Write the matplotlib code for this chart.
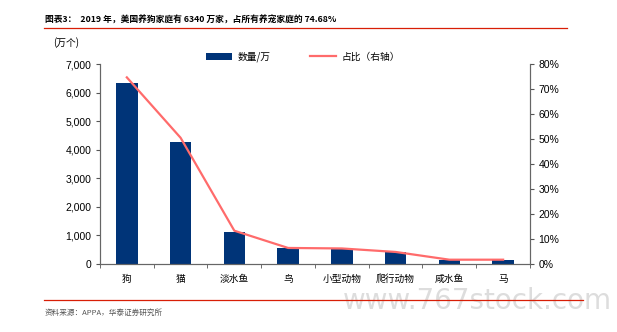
import matplotlib.pyplot as plt
from matplotlib.ticker import FuncFormatter

plt.rcParams['font.family'] = ['Liberation Sans', 'Noto Sans CJK SC', 'DejaVu Sans']

# data
pets = ['狗', '猫', '淡水鱼', '鸟', '小型动物', '爬行动物', '咸水鱼', '马']
counts = [6340, 4270, 1130, 560, 520, 430, 150, 150]          # 万个
share = [74.68, 50.5, 13.3, 6.4, 6.2, 4.8, 1.7, 1.7]          # %

bar_color = '#003478'
line_color = '#FF6B6B'
red = '#D81E06'
cjk = ['Noto Sans CJK SC', 'DejaVu Sans']

fig = plt.figure(figsize=(6.17, 3.32), dpi=100)
ax = fig.add_axes([0.162, 0.205, 0.697, 0.602])
ax2 = ax.twinx()

x = list(range(len(pets)))
b = ax.bar(x, counts, width=0.4, color=bar_color, label='数量/万', zorder=2)
ln, = ax2.plot(x, share, color=line_color, lw=1.6, label='占比（右轴）', zorder=3)
ax2.set_zorder(ax.get_zorder() + 1)
ax2.patch.set_visible(False)

ax.set_xlim(-0.5, len(pets) - 0.5)
ax.set_ylim(0, 7000)
ax2.set_ylim(0, 80)
ax.set_yticks(range(0, 7001, 1000))
ax2.set_yticks(range(0, 81, 10))
ax.yaxis.set_major_formatter(FuncFormatter(lambda v, p: f'{int(v):,}'))
ax2.yaxis.set_major_formatter(FuncFormatter(lambda v, p: f'{int(v)}%'))

ax.set_xticks(x)
ax.set_xticklabels(pets, family=cjk, fontsize=7)
ax.set_xticks([i - 0.5 for i in range(len(pets) + 1)], minor=True)
ax.tick_params(axis='x', which='major', length=0, pad=7)
ax.tick_params(axis='x', which='minor', length=3, color='#555555')
ax.tick_params(axis='y', labelsize=7.5, length=3, color='#555555', pad=3)
ax2.tick_params(axis='y', labelsize=7.5, length=3, color='#555555', pad=3)

for a in (ax, ax2):
    a.spines['top'].set_visible(False)
    for s in ('left', 'right', 'bottom'):
        a.spines[s].set_color('#666666')
        a.spines[s].set_linewidth(0.8)

ax.legend([b, ln], ['数量/万', '占比（右轴）'], loc='center', bbox_to_anchor=(0.472, 1.035),
          ncol=2, frameon=False, prop={'family': cjk, 'size': 7}, handlelength=2.7,
          columnspacing=4, handletextpad=0.6)

fig.text(0.086, 0.862, '(万个)', family=cjk, fontsize=7)

fig.text(0.073, 0.94, '图表3：  2019 年，美国养狗家庭有 6340 万家，占所有养宠家庭的 74.68%',
         family=cjk, fontsize=6.3, fontweight='bold', va='center')
fig.add_artist(plt.Line2D([0.071, 0.919], [0.916, 0.916], color=red, lw=0.9))
fig.add_artist(plt.Line2D([0.071, 0.945], [0.097, 0.097], color=red, lw=0.9))
fig.text(0.073, 0.057, '资料来源：APPA，华泰证券研究所', family=cjk, fontsize=5.5,
         color='#555555', va='center')
# watermark
fig.text(0.992, 0.092, 'www.767stock.com', fontsize=20, color='#DDDDDD', ha='right',
         va='center', family='DejaVu Sans', zorder=0)

fig.savefig('out.png', dpi=100)
